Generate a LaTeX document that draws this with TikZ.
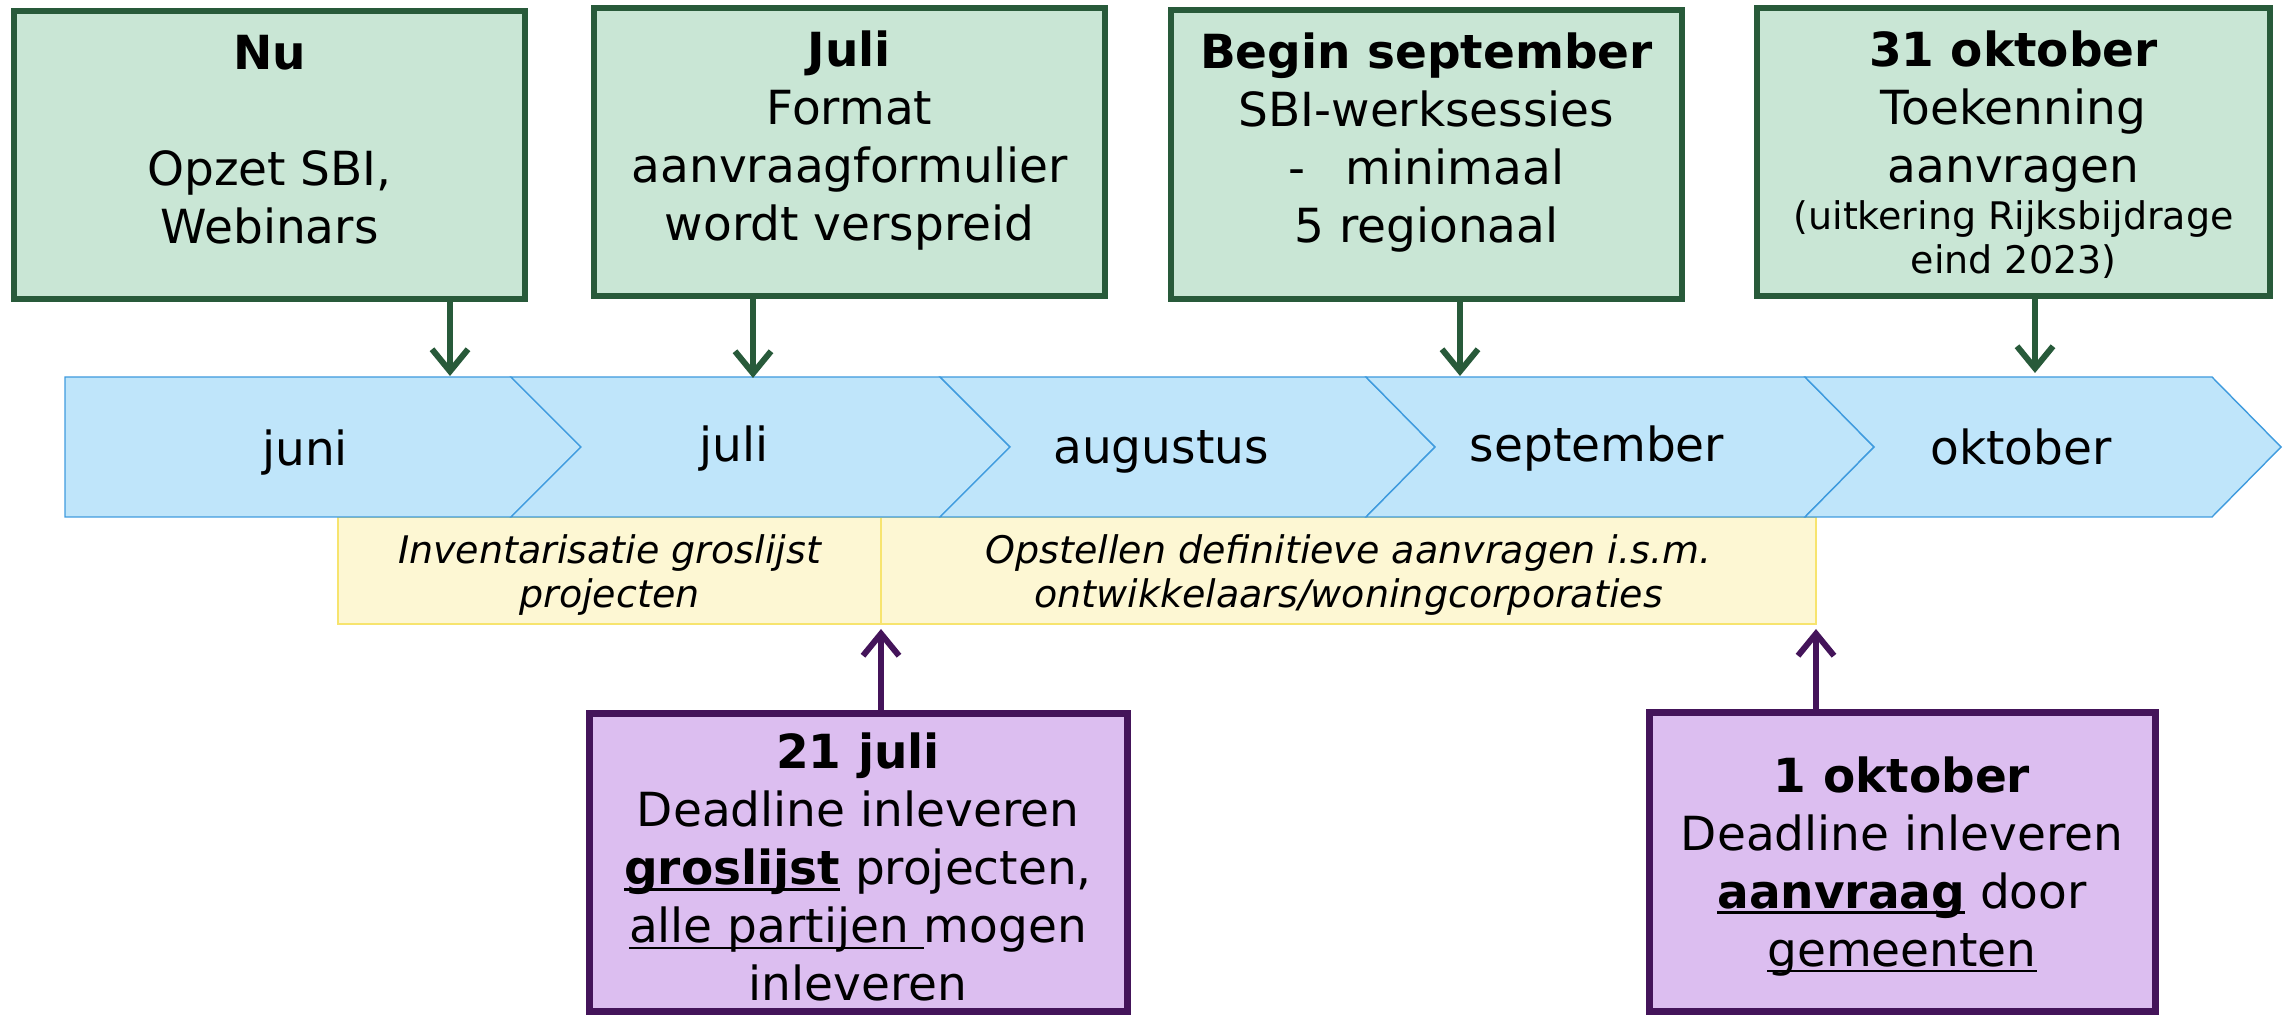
\documentclass[tikz,border=0pt]{standalone}
\usepackage{fontspec}
\setmainfont{DejaVu Sans}
\usetikzlibrary{arrows.meta}
\definecolor{gborder}{RGB}{40,90,58}
\definecolor{gfill}{RGB}{201,230,213}
\definecolor{cfill}{RGB}{191,229,250}
\definecolor{cline}{RGB}{63,155,222}
\definecolor{yfill}{RGB}{253,247,211}
\definecolor{yline}{RGB}{247,228,110}
\definecolor{pborder}{RGB}{68,20,90}
\definecolor{pfill}{RGB}{220,190,240}
\newsavebox\ulbox
\newcommand\ulr[3]{\sbox\ulbox{#3}\rlap{\rule[-#1]{\wd\ulbox}{#2}}\usebox\ulbox}
\begin{document}
\begin{tikzpicture}[x=0.5pt,y=-0.5pt,
  gbox/.style={draw=gborder,fill=gfill,line width=3pt,inner sep=0pt},
  pbox/.style={draw=pborder,fill=pfill,line width=3.5pt,inner sep=0pt},
  ybar/.style={draw=yline,fill=yfill,line width=0.6pt,inner sep=0pt},
  ytx/.style={inner sep=0pt,align=center,font=\fontsize{19pt}{22pt}\selectfont\itshape},
  chev/.style={draw=cline,fill=cfill,line width=0.7pt},
  tx/.style={inner sep=0pt,align=center,font=\fontsize{23.5pt}{29pt}\selectfont},
  smalltx/.style={inner sep=0pt,align=center,font=\fontsize{19pt}{22pt}\selectfont},
  month/.style={inner sep=0pt,anchor=base,font=\fontsize{23.5pt}{29pt}\selectfont},
  garrow/.style={draw=gborder,line width=3pt,-{Straight Barb[length=11pt,width=18pt]}},
  parrow/.style={draw=pborder,line width=3pt,-{Straight Barb[length=11pt,width=18pt]}}]
\useasboundingbox (0,0) rectangle (2287,1015);

% top boxes
\node[gbox,minimum width=255.5pt,minimum height=144pt] (nu) at (269.5,155) {};
\node[gbox,minimum width=255.5pt,minimum height=144pt] (juli) at (849.5,152) {};
\node[gbox,minimum width=255.5pt,minimum height=144.5pt] (sept) at (1426.5,154.5) {};
\node[gbox,minimum width=256.5pt,minimum height=144pt] (okt) at (2013.5,152) {};

\node[tx,anchor=north] (nuT) at (269.5,35) {\textbf{Nu}\\[29pt]Opzet SBI,\\Webinars};
\node[tx,anchor=north] (juliT) at (849.5,30) {\textbf{Juli}\\Format\\aanvraagformulier\\wordt verspreid};
\node[tx,anchor=north] (septT) at (1426.5,32) {\textbf{Begin september}\\SBI-werksessies\\-\hspace{0.85em}minimaal\\5 regionaal};
\node[tx,anchor=north] (oktT) at (2013.5,30) {\textbf{31 oktober}\\Toekenning\\aanvragen};
\node[smalltx,anchor=north] (oktS) at (2013.5,200) {(uitkering Rijksbijdrage\\eind 2023)};

% yellow bars
\node[ybar,minimum width=271.5pt,minimum height=53.5pt] (bar1) at (609.5,570.5) {};
\node[ybar,minimum width=467.5pt,minimum height=53.5pt] (bar2) at (1348.5,570.5) {};
\node[ytx] (bar1T) at (609.5,575) {Inventarisatie groslijst\\projecten};
\node[ytx] (bar2T) at (1348.5,575) {Opstellen definitieve aanvragen i.s.m.\\ontwikkelaars/woningcorporaties};

% chevrons
\draw[chev] (65,377) -- (511,377) -- (581,447) -- (511,517) -- (65,517) -- cycle;
\draw[chev] (511,377) -- (940,377) -- (1010,447) -- (940,517) -- (511,517) -- (581,447) -- cycle;
\draw[chev] (940,377) -- (1366,377) -- (1435,447) -- (1366,517) -- (940,517) -- (1010,447) -- cycle;
\draw[chev] (1366,377) -- (1805,377) -- (1874,447) -- (1805,517) -- (1366,517) -- (1435,447) -- cycle;
\draw[chev] (1805,377) -- (2212,377) -- (2281,447) -- (2212,517) -- (1805,517) -- (1874,447) -- cycle;

\node[month] (mJun) at (305,466) {juni};
\node[month] (mJul) at (734,462) {juli};
\node[month] (mAug) at (1161,464) {augustus};
\node[month] (mSep) at (1597,462) {september};
\node[month] (mOkt) at (2021,465) {oktober};

% green arrows
\coordinate (a1) at (450,376);
\coordinate (a2) at (753,378);
\coordinate (a3) at (1460,376);
\coordinate (a4) at (2035,373);
\draw[garrow] (nu.south -| a1) -- (a1);
\draw[garrow] (juli.south -| a2) -- (a2);
\draw[garrow] (sept.south -| a3) -- (a3);
\draw[garrow] (okt.south -| a4) -- (a4);

% purple boxes
\node[pbox,minimum width=269pt,minimum height=148.5pt] (jul21) at (858,862.5) {};
\node[pbox,minimum width=253pt,minimum height=149pt] (okt1) at (1902,862) {};

\node[tx] (jul21T) at (858,867) {\textbf{21 juli}\\Deadline inleveren\\\ulr{3pt}{1.5pt}{\textbf{groslijst}} projecten,\\\ulr{3pt}{1pt}{alle partijen\ }mogen\\inleveren};
\node[tx] (okt1T) at (1902,866.5) {\textbf{1 oktober}\\Deadline inleveren\\\ulr{3pt}{1.5pt}{\textbf{aanvraag}} door\\\ulr{3pt}{1pt}{gemeenten}};

% purple arrows
\coordinate (p1) at (881,629);
\coordinate (p2) at (1816,629);
\draw[parrow] (jul21.north -| p1) -- (p1);
\draw[parrow] (okt1.north -| p2) -- (p2);
\end{tikzpicture}
\end{document}
